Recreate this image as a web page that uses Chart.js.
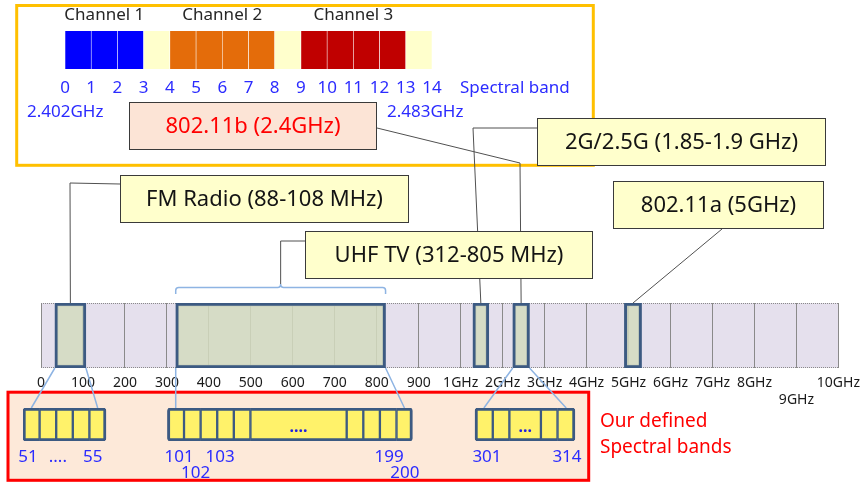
<!DOCTYPE html>
<html><head><meta charset="utf-8">
<script src="https://cdn.jsdelivr.net/npm/chart.js@4.4.1/dist/chart.umd.min.js"></script>
<style>
html,body{margin:0;padding:0;background:#fff;}
#wrap{position:relative;width:867px;height:483px;overflow:hidden;}
#wrap canvas{position:absolute;left:0;top:0;}
</style></head><body>
<div id="wrap">
<canvas id="main" width="867" height="483"></canvas>
<canvas id="chan" width="867" height="483"></canvas>
<canvas id="sub" width="867" height="483"></canvas>
</div>
<script>
// ================= DATA =================
// Spectrum axis slots: 0..900 MHz (100 MHz steps) then 1..10 GHz
const specTickLabels = ['0','100','200','300','400','500','600','700','800','900',
  '1GHz','2GHz','3GHz','4GHz','5GHz','6GHz','7GHz','8GHz',['','9GHz'],'10GHz'];
const specTicks = specTickLabels.map((_, i) => i);

// Highlighted bands on the spectrum strip (in slot units, as drawn)
const bandNames = ['FM Radio (88-108 MHz)', 'UHF TV (312-805 MHz)', '2G/2.5G (1.85-1.9 GHz)', '802.11b (2.4GHz)', '802.11a (5GHz)'];
const bandStart = [0.33, 3.21, 10.29, 11.24, 13.90];
const bandEnd   = [1.07, 8.21, 10.67, 11.64, 14.31];
const bandGroup = [0, 1, null, 2, null];   // which defined sub-band group each band expands to

// 802.11b channel detail (spectral band cells 0..14)
const channelTicks = [0,1,2,3,4,5,6,7,8,9,10,11,12,13,14];
const channelNames = ['Channel 1', 'Channel 2', 'Channel 3'];
const channelFirst = [0, 4, 9];
const channelEnd   = [3, 8, 13];
const channelEdgeLabels = ['2.402GHz', '2.483GHz'];

// Our defined spectral bands (cells, in cell units)
const subCellStart = [0,1,2,3,4,  8.7,9.7,10.7,11.7,12.7,13.7,19.5,20.5,21.5,22.5,  27.23,28.3,29.3,31.2,32.2];
const subCellEnd   = [1,2,3,4,5,  9.7,10.7,11.7,12.7,13.7,19.5,20.5,21.5,22.5,23.46, 28.3,29.3,31.2,32.2,33.25];
const subCellGroup = [0,0,0,0,0,  1,1,1,1,1,1,1,1,1,1,  2,2,2,2,2];
const subCellText  = ['','','','','',  '','','','','','....','','','','',  '','','...','',''];
const subTickPos    = [0.3, 2.1, 4.2, 9.4, 10.4, 11.87, 22.05, 23.0, 27.95, 32.77];
const subTickLabels = ['51','....','55','101',['','102'],'103','199',['','200'],'301','314'];

// ================= STYLE / LAYOUT =================
const FONT = "'Noto Sans','Open Sans',sans-serif";
Chart.defaults.font.family = FONT;
const BLUE_TXT = '#2b2bff';
const channelColors = ['#0000ff', '#e46c0a', '#c00000'];
const guardColor = '#ffffcc';
const calloutBox = [[120,175,289,48],[305,231,288,48],[537,118,289,48],[129,102,248,48],[613,181,211,48]];
const calloutPath = [[[120,184],[70,183]], [[305,241],['c',241]], [[537,128],[473,128]], [[377,128],[520,163]], [[722,229]]];
const bracketTip = 284;
const common = {responsive:false, animation:false, events:[], plugins:{legend:{display:false}, tooltip:{enabled:false}}};

// ================= CHANNEL CHART =================
function channelOf(i){ for (let c = 0; c < channelNames.length; c++) if (i >= channelFirst[c] && i < channelEnd[c]) return c; return -1; }
const chanCells = channelTicks.slice(0, -1).map((_, i) => i);
const chanDeco = {
  id: 'chanDeco',
  afterDraw(chart){
    const {ctx, scales:{x}} = chart;
    ctx.save();
    ctx.font = '17px ' + FONT; ctx.textBaseline = 'middle'; ctx.textAlign = 'center'; ctx.fillStyle = '#262626';
    channelNames.forEach((n, c) => ctx.fillText(n, x.getPixelForValue((channelFirst[c] + channelEnd[c]) / 2), 15));
    ctx.textAlign = 'left'; ctx.fillStyle = BLUE_TXT;
    ctx.fillText('Spectral band', 460, 88);
    ctx.restore();
  }
};
const chanChart = new Chart(document.getElementById('chan'), {
  type: 'bar',
  data: {labels: ['b'], datasets: [{
    data: chanCells.map(i => ({x: [channelTicks[i], channelTicks[i + 1]], y: 'b'})),
    backgroundColor: chanCells.map(i => { const c = channelOf(i); return c < 0 ? guardColor : channelColors[c]; }),
    borderColor: '#ffffff', borderWidth: {left: 0.6, right: 0.6, top: 0, bottom: 0}, borderSkipped: false,
    barPercentage: 1, categoryPercentage: 1
  }]},
  options: {...common, indexAxis: 'y',
    layout: {padding: {left: 65, right: 435, top: 31, bottom: 0}},
    scales: {
      x: {type: 'linear', min: 0, max: 14,
        afterFit: s => { s.height = 414; },
        afterBuildTicks: s => { s.ticks = channelTicks.map(v => ({value: v})); },
        grid: {display: false, drawTicks: false}, border: {display: false},
        ticks: {autoSkip: false, maxRotation: 0, minRotation: 0, padding: 9, color: BLUE_TXT, font: {size: 17},
          callback: (v, i) => String(channelTicks[i])}},
      y: {display: false}
    }},
  plugins: [chanDeco]
});

// ================= SUB-BAND CHART =================
const subIdx = subCellStart.map((_, i) => i);
function isFirst(i){ return i === 0 || subCellGroup[i - 1] !== subCellGroup[i]; }
function isLast(i){ return i === subCellGroup.length - 1 || subCellGroup[i + 1] !== subCellGroup[i]; }
const subDeco = {
  id: 'subDeco',
  afterDatasetsDraw(chart){
    const {ctx} = chart; const els = chart.getDatasetMeta(0).data;
    ctx.save();
    ctx.font = 'bold 16px ' + FONT; ctx.textAlign = 'center'; ctx.textBaseline = 'alphabetic'; ctx.fillStyle = '#2020e0';
    els.forEach((el, i) => { if (subCellText[i]) ctx.fillText(subCellText[i], (el.x + el.base) / 2, 432); });
    ctx.restore();
  }
};
const subChart = new Chart(document.getElementById('sub'), {
  type: 'bar',
  data: {labels: ['s'], datasets: [{
    data: subIdx.map(i => ({x: [subCellStart[i], subCellEnd[i]], y: 's'})),
    backgroundColor: '#fff26a', borderColor: '#3c5a82', borderSkipped: false,
    borderWidth: subIdx.map(i => ({top: 3, bottom: 3, left: isFirst(i) ? 3 : 1.5, right: isLast(i) ? 3 : 1.5})),
    borderRadius: subIdx.map(i => ({topLeft: isFirst(i) ? 3 : 0, bottomLeft: isFirst(i) ? 3 : 0, topRight: isLast(i) ? 3 : 0, bottomRight: isLast(i) ? 3 : 0})),
    barPercentage: 1, categoryPercentage: 1
  }]},
  options: {...common, indexAxis: 'y',
    layout: {padding: {left: 23, right: 279.6, top: 408, bottom: 0}},
    scales: {
      x: {type: 'linear', min: 0, max: 34,
        afterFit: s => { s.height = 42; },
        afterBuildTicks: s => { s.ticks = subTickPos.map(v => ({value: v})); },
        grid: {display: false, drawTicks: false}, border: {display: false},
        ticks: {autoSkip: false, maxRotation: 0, minRotation: 0, padding: 8, color: BLUE_TXT,
          font: {size: 17, lineHeight: 0.95}, callback: (v, i) => subTickLabels[i]}},
      y: {display: false}
    }},
  plugins: [subDeco]
});

// ================= MAIN SPECTRUM CHART =================
const mainDeco = {
  id: 'mainDeco',
  beforeDraw(chart){
    const {ctx, chartArea: a, scales: {x}} = chart;
    ctx.save();
    ctx.strokeStyle = '#ffc000'; ctx.lineWidth = 3;
    ctx.strokeRect(16.7, 5.5, 576.6, 159.8);
    ctx.fillStyle = '#fde9d9'; ctx.fillRect(8, 392, 580.7, 88.3);
    ctx.strokeStyle = '#ff0000'; ctx.lineWidth = 3; ctx.strokeRect(8, 392.2, 580.7, 88.1);
    const x0 = x.getPixelForValue(x.min), x1 = x.getPixelForValue(x.max);
    ctx.fillStyle = '#e5e0ed'; ctx.fillRect(x0, a.top, x1 - x0, a.bottom - a.top);
    ctx.setLineDash([1, 1]); ctx.strokeStyle = '#8a8a8a'; ctx.lineWidth = 1;
    ctx.beginPath();
    ctx.moveTo(x0, a.top + 0.5); ctx.lineTo(x1, a.top + 0.5);
    ctx.moveTo(x0, a.bottom - 0.5); ctx.lineTo(x1, a.bottom - 0.5);
    ctx.stroke();
    ctx.restore();
  },
  afterDraw(chart){
    const {ctx, chartArea: a, scales: {x}} = chart;
    const px = v => x.getPixelForValue(v);
    const ctr = i => px((bandStart[i] + bandEnd[i]) / 2);
    ctx.save();
    // UHF bracket
    const bL = px(bandStart[1]), bR = px(bandEnd[1]), bC = ctr(1);
    ctx.strokeStyle = '#8eb4e3'; ctx.lineWidth = 1.5;
    ctx.beginPath();
    ctx.moveTo(bL, 294); ctx.lineTo(bL, 290.5); ctx.quadraticCurveTo(bL, 287.5, bL + 3, 287.5);
    ctx.lineTo(bC - 3, 287.5); ctx.quadraticCurveTo(bC, 287.5, bC, bracketTip);
    ctx.quadraticCurveTo(bC, 287.5, bC + 3, 287.5); ctx.lineTo(bR - 3, 287.5);
    ctx.quadraticCurveTo(bR, 287.5, bR, 290.5); ctx.lineTo(bR, 294);
    ctx.stroke();
    // connectors to defined sub-bands
    const sx = subChart.scales.x, sTop = subChart.chartArea.top;
    bandGroup.forEach((g, i) => {
      if (g === null) return;
      const cells = subIdx.filter(k => subCellGroup[k] === g);
      const f = cells[0], l = cells[cells.length - 1];
      ctx.beginPath();
      ctx.moveTo(px(bandStart[i]), a.bottom); ctx.lineTo(sx.getPixelForValue((subCellStart[f] + subCellEnd[f]) / 2), sTop);
      ctx.moveTo(px(bandEnd[i]), a.bottom); ctx.lineTo(sx.getPixelForValue((subCellStart[l] + subCellEnd[l]) / 2), sTop);
      ctx.stroke();
    });
    // callout leader lines
    ctx.strokeStyle = '#505050'; ctx.lineWidth = 1;
    calloutPath.forEach((pts, i) => {
      ctx.beginPath();
      pts.forEach((p, k) => { const xx = p[0] === 'c' ? ctr(i) : p[0]; k ? ctx.lineTo(xx, p[1]) : ctx.moveTo(xx, p[1]); });
      ctx.lineTo(ctr(i), i === 1 ? bracketTip : a.top);
      ctx.stroke();
    });
    // callout boxes
    ctx.font = '22px ' + FONT; ctx.textAlign = 'center'; ctx.textBaseline = 'middle';
    calloutBox.forEach((b, i) => {
      const wifiB = i === 3;
      ctx.fillStyle = wifiB ? '#fce4d6' : '#ffffcc';
      ctx.fillRect(b[0], b[1], b[2], b[3]);
      ctx.strokeStyle = '#3a3a3a'; ctx.lineWidth = 1;
      ctx.strokeRect(b[0] + 0.5, b[1] + 0.5, b[2] - 1, b[3] - 1);
      ctx.fillStyle = wifiB ? '#ff0000' : '#141414';
      ctx.fillText(bandNames[i], b[0] + b[2] / 2, b[1] + b[3] / 2 + 1);
    });
    // edge frequency labels of the 802.11b detail
    ctx.font = '17px ' + FONT; ctx.textAlign = 'left'; ctx.fillStyle = BLUE_TXT;
    ctx.fillText(channelEdgeLabels[0], 27, 112);
    ctx.fillText(channelEdgeLabels[1], 387, 112);
    // red caption
    ctx.font = '19px ' + FONT; ctx.fillStyle = '#ff0000'; ctx.textBaseline = 'alphabetic';
    ctx.fillText('Our defined', 600, 427);
    ctx.fillText('Spectral bands', 600, 453);
    ctx.restore();
  }
};
const mainChart = new Chart(document.getElementById('main'), {
  type: 'bar',
  data: {labels: ['spec'], datasets: [{
    data: bandStart.map((s, i) => ({x: [s, bandEnd[i]], y: 'spec'})),
    backgroundColor: 'rgba(211,218,190,0.85)', borderColor: '#3c5a82', borderWidth: 3, borderSkipped: false,
    barPercentage: 1, categoryPercentage: 1
  }]},
  options: {...common, indexAxis: 'y',
    layout: {padding: {left: 41, right: 28, top: 303, bottom: 0}},
    scales: {
      x: {type: 'linear', min: 0, max: 19,
        afterFit: s => { s.height = 115; },
        afterBuildTicks: s => { s.ticks = specTicks.map(v => ({value: v})); },
        grid: {display: true, drawTicks: false, color: '#8a8a8a', lineWidth: 1}, border: {display: false},
        ticks: {autoSkip: false, maxRotation: 0, minRotation: 0, padding: 7, color: '#1a1a1a', font: {size: 14},
          callback: (v, i) => specTickLabels[i]}},
      y: {display: false}
    }},
  plugins: [mainDeco]
});
</script>
</body></html>
